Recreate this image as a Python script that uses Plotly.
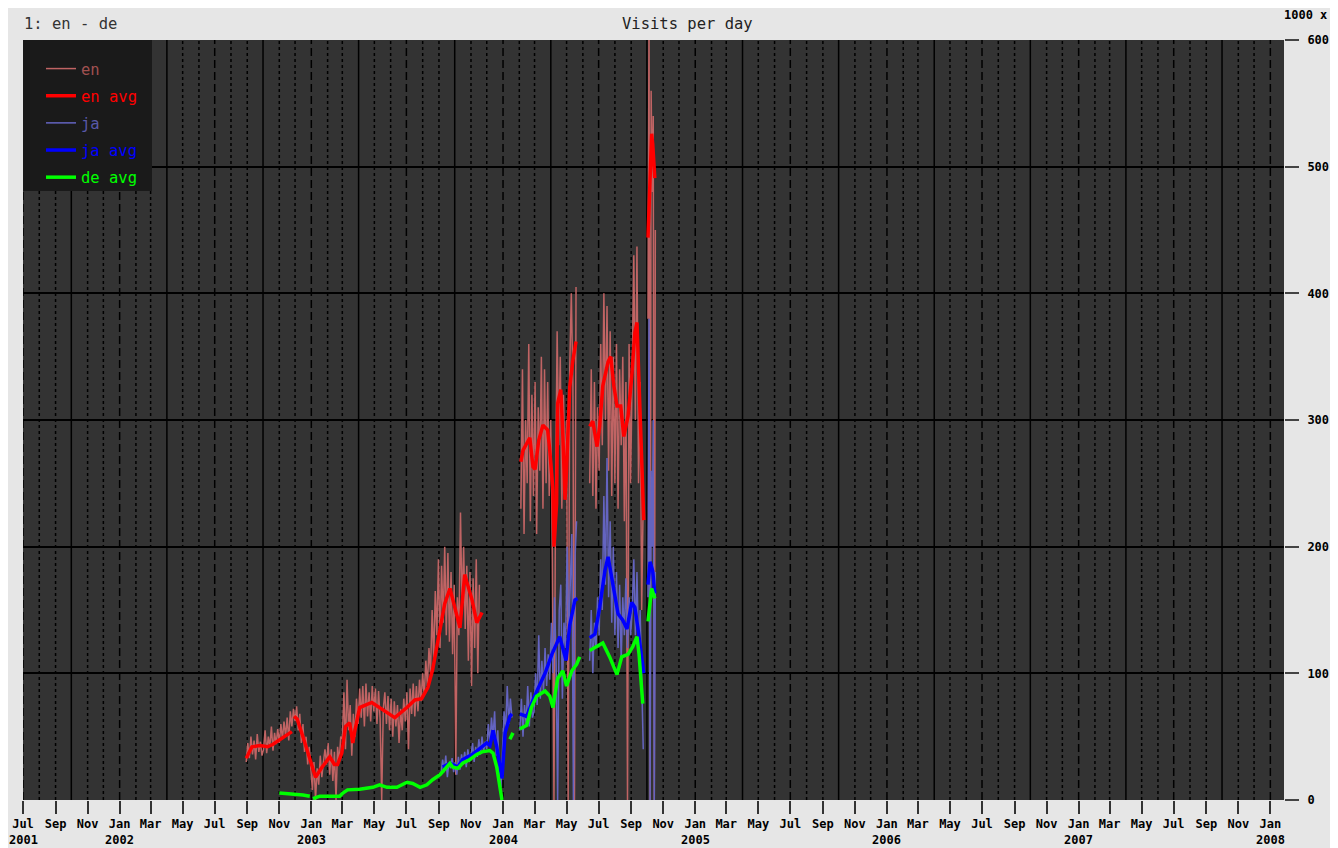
import plotly.graph_objects as go
import pandas as pd

# ---------------- data (thousands of visits per day) ----------------
# "en" daily values, sampled every 3 days (segment start dates)
en_d1_start = "2002-08-30"
en_d1_vals = [30, 45, 33, 50, 36, 47, 32, 52, 38, 46, 35,
              40, 55, 37, 50, 42, 58, 39, 53, 44, 56,
              45, 60, 48, 62, 50, 65, 47, 70, 58, 72,
              62, 74, 55, 68, 45, 60, 38, 50, 28, 42,
              22, 8, 30, 0, 25, 12, 35, 18, 30, 40,
              28, 45, 20, 40, 15, 38, 0, 42, 30, 50,
              48, 85, 40, 95, 55, 75, 35, 68, 50, 80,
              60, 88, 65, 90, 58, 92, 66, 85, 62, 90,
              70, 88, 60, 86, 64, 0, 72, 85, 60, 82,
              55, 80, 50, 78, 58, 75, 45, 72, 55, 80,
              62, 85, 40, 88, 68, 92, 66, 90, 70, 95,
              78, 100, 82, 110, 90, 120, 100, 150, 110, 165,
              130, 190, 120, 185, 140, 200, 130, 195, 125, 180,
              115, 170, 20, 160, 130, 227, 150, 200, 135, 185,
              110, 180, 90, 175, 120, 190, 100, 170]
en_d2_start = "2004-02-04"
en_d2_vals = [230, 340, 210, 300, 250, 360, 220, 320, 240,
              330, 210, 310, 260, 350, 230, 340, 250, 330, 240,
              300, 190, 0, 240, 370, 280, 350, 230, 320, 260,
              300, 0, 340, 400, 330, 0, 405]
en_d3_start = "2004-06-14"
en_d3_vals = [250, 340, 240, 330, 230, 310,
              260, 360, 280, 400, 300, 390, 260, 370, 240, 350,
              250, 360, 230, 340, 280, 350, 220, 330, 0, 360, 250,
              340, 430, 300, 437, 250, 330, 150, 240]
en_d4_start = "2004-10-03"   # every 2 days
en_d4_vals = [380, 620, 0, 560, 480, 540, 0, 450]

# "ja" daily values, sampled every 3 days
ja_d1_start = "2003-09-05"
ja_d1_vals = [20, 32, 22, 35, 18, 30, 25, 33, 22,
              30, 20, 34, 24, 36, 28, 38, 26, 40, 30,
              35, 45, 30, 42, 34, 48, 36, 50, 38, 46,
              40, 60, 45, 65, 50, 70, 35, 55, 20, 10,
              40, 70, 55, 90, 60, 80, 65]
ja_d2_start = "2004-02-02"
ja_d2_vals = [55, 80, 50, 75, 60, 90, 58, 85, 65,
              70, 100, 75, 130, 80, 110, 85, 120, 90, 115,
              95, 140, 100, 160, 110, 0, 150, 170, 80, 140,
              120, 200, 130, 170, 210, 0, 190, 220]
ja_d3_start = "2004-06-14"
ja_d3_vals = [110, 150, 100, 140, 120, 160,
              130, 190, 150, 240, 170, 270, 160, 220, 140, 200,
              130, 180, 120, 170, 110, 160, 130, 175, 120, 160, 130,
              150, 190, 130, 180, 120, 150, 80, 40]
ja_d4_start = "2004-10-03"   # every 2 days
ja_d4_vals = [160, 380, 0, 260, 200, 300, 0, 180]

# averages: segments of (dates, values)
en_avg_dates = [
    ["2002-08-30", "2002-09-10", "2002-09-25", "2002-10-10", "2002-10-20", "2002-10-30", "2002-11-10", "2002-11-25"],
    ["2002-11-29", "2002-12-05", "2002-12-16", "2002-12-29", "2003-01-09", "2003-01-20", "2003-02-05", "2003-02-14",
     "2003-02-20", "2003-02-28", "2003-03-07", "2003-03-15", "2003-03-21", "2003-03-25", "2003-04-03", "2003-04-26",
     "2003-05-17", "2003-06-09", "2003-07-02", "2003-07-17", "2003-07-30", "2003-08-11", "2003-08-20", "2003-08-30",
     "2003-09-12", "2003-09-22", "2003-10-01", "2003-10-11", "2003-10-20", "2003-11-03", "2003-11-12", "2003-11-22"],
    ["2004-02-04", "2004-02-08", "2004-02-21", "2004-02-27", "2004-03-02", "2004-03-09", "2004-03-17", "2004-03-26",
     "2004-03-30", "2004-04-05", "2004-04-07", "2004-04-12", "2004-04-14", "2004-04-20", "2004-04-24", "2004-04-28",
     "2004-05-01", "2004-05-07", "2004-05-13", "2004-05-19"],
    ["2004-06-14", "2004-06-20", "2004-06-28", "2004-07-03", "2004-07-09", "2004-07-19", "2004-07-24", "2004-07-30",
     "2004-08-05", "2004-08-12", "2004-08-18", "2004-08-26", "2004-09-02", "2004-09-08", "2004-09-12", "2004-09-16",
     "2004-09-21", "2004-09-25"],
    ["2004-10-03", "2004-10-07", "2004-10-10", "2004-10-12", "2004-10-16"],
]
en_avg_vals = [
    [33, 42, 43, 42, 44, 47, 50, 54],
    [66, 64, 50, 32, 18, 25, 34, 28, 28, 37, 58, 61, 45, 55, 73, 77,
     71, 65, 73, 79, 80, 89, 103, 126, 155, 167, 152, 136, 178, 158, 140, 148],
    [267, 276, 286, 263, 261, 284, 296, 292, 276, 245, 200, 234, 313, 324, 287, 237, 261, 326, 347, 362],
    [295, 299, 279, 295, 327, 346, 350, 327, 311, 311, 287, 303, 334, 369, 377, 334, 276, 221],
    [444, 502, 526, 518, 491],
]

ja_avg_dates = [
    ["2003-09-08", "2003-09-22", "2003-10-07", "2003-10-16", "2003-11-04", "2003-11-23", "2003-12-01", "2003-12-07",
     "2003-12-13", "2003-12-20", "2003-12-26", "2003-12-30", "2004-01-05", "2004-01-14", "2004-01-18"],
    ["2004-02-02", "2004-02-15", "2004-03-01", "2004-03-21", "2004-04-03", "2004-04-18", "2004-04-30", "2004-05-07",
     "2004-05-17", "2004-05-22"],
    ["2004-06-14", "2004-06-24", "2004-07-03", "2004-07-13", "2004-07-19", "2004-07-28", "2004-08-07", "2004-08-16",
     "2004-08-24", "2004-09-02", "2004-09-08", "2004-09-14", "2004-09-21", "2004-09-25"],
    ["2004-10-03", "2004-10-07", "2004-10-12", "2004-10-16"],
]
ja_avg_vals = [
    [26, 29, 26, 32, 36, 42, 45, 43, 55, 42, 29, 17, 53, 66, 68],
    [68, 66, 82, 100, 115, 129, 110, 138, 158, 159],
    [128, 131, 152, 181, 192, 172, 147, 142, 135, 156, 152, 135, 115, 100],
    [170, 188, 181, 163],
]

de_avg_dates = [
    ["2002-11-01", "2002-11-21", "2002-12-16", "2002-12-29"],
    ["2003-01-04", "2003-01-17", "2003-02-05", "2003-02-24", "2003-03-02", "2003-03-11", "2003-04-03", "2003-04-28",
     "2003-05-11", "2003-05-25", "2003-06-13", "2003-07-02", "2003-07-13", "2003-07-27", "2003-08-09", "2003-08-20",
     "2003-09-03", "2003-09-12", "2003-09-22", "2003-09-27", "2003-10-07", "2003-10-16", "2003-10-30", "2003-11-12",
     "2003-11-22", "2003-12-07", "2003-12-13", "2003-12-20", "2003-12-26", "2003-12-30"],
    ["2004-01-14", "2004-01-20"],
    ["2004-02-02", "2004-02-15", "2004-02-24", "2004-03-05", "2004-03-21", "2004-03-30", "2004-04-05", "2004-04-14",
     "2004-04-24", "2004-05-01", "2004-05-11", "2004-05-20", "2004-05-26"],
    ["2004-06-14", "2004-06-28", "2004-07-09", "2004-07-22", "2004-08-05", "2004-08-14", "2004-08-26", "2004-09-04",
     "2004-09-12", "2004-09-16", "2004-09-23"],
    ["2004-10-03", "2004-10-10", "2004-10-16"],
]
de_avg_vals = [
    [5.5, 5, 4, 3],
    [1, 3, 3, 3, 5.5, 8, 8.5, 10, 12, 10, 10, 14, 13, 10, 12, 16,
     20, 24, 29, 26, 25, 29, 32, 36, 38, 39, 37, 26, 10, 0],
    [48, 53],
    [56, 59, 73, 82, 86, 82, 73, 96, 102, 90, 102, 107, 113],
    [118, 121, 124, 113, 99, 113, 115, 121, 129, 115, 76],
    [141, 167, 159],
]

month_ticks = pd.date_range("2001-07-01", "2008-01-01", freq="2MS")
month_abbr = ["Jan", "Feb", "Mar", "Apr", "May", "Jun", "Jul", "Aug", "Sep", "Oct", "Nov", "Dec"]
tick_text = [month_abbr[d.month - 1] for d in month_ticks]
year_labels = ["2001", "2002", "2003", "2004", "2005", "2006", "2007", "2008"]
year_dates = ["2001-07-01", "2002-01-01", "2003-01-01", "2004-01-01", "2005-01-01",
              "2006-01-01", "2007-01-01", "2008-01-01"]


# ---------------- helpers ----------------
def daily(segments):
    xs, ys = [], []
    for start, vals, step in segments:
        d = pd.date_range(start, periods=len(vals), freq=step)
        xs += [x.strftime("%Y-%m-%d") for x in d] + [None]
        ys += list(vals) + [None]
    return xs, ys


def joined(dates, vals):
    xs, ys = [], []
    for d, v in zip(dates, vals):
        xs += d + [None]
        ys += v + [None]
    return xs, ys


FONT = "DejaVu Sans Mono"
C_EN, C_EN_AVG = "#c06464", "#ff0000"
C_JA, C_JA_AVG = "#6464c0", "#0000ff"
C_DE_AVG = "#00ff00"


def lname(text, color):
    return '<span style="color:%s">%s</span>' % (color, text)


fig = go.Figure()

x, y = daily([(en_d1_start, en_d1_vals, "3D"), (en_d2_start, en_d2_vals, "3D"),
              (en_d3_start, en_d3_vals, "3D"), (en_d4_start, en_d4_vals, "2D")])
fig.add_trace(go.Scatter(x=x, y=y, mode="lines", line=dict(color=C_EN, width=1.5),
                         name=lname("en", "#a05050"), legendgroup="a"))

x, y = joined(en_avg_dates, en_avg_vals)
fig.add_trace(go.Scatter(x=x, y=y, mode="lines", line=dict(color=C_EN_AVG, width=3.5),
                         name=lname("en avg", C_EN_AVG), legendgroup="b"))

x, y = daily([(ja_d1_start, ja_d1_vals, "3D"), (ja_d2_start, ja_d2_vals, "3D"),
              (ja_d3_start, ja_d3_vals, "3D"), (ja_d4_start, ja_d4_vals, "2D")])
fig.add_trace(go.Scatter(x=x, y=y, mode="lines", line=dict(color=C_JA, width=1.5),
                         name=lname("ja", "#5858a8"), legendgroup="c"))

x, y = joined(ja_avg_dates, ja_avg_vals)
fig.add_trace(go.Scatter(x=x, y=y, mode="lines", line=dict(color=C_JA_AVG, width=3.5),
                         name=lname("ja avg", C_JA_AVG), legendgroup="d"))

x, y = joined(de_avg_dates, de_avg_vals)
fig.add_trace(go.Scatter(x=x, y=y, mode="lines", line=dict(color=C_DE_AVG, width=3.5),
                         name=lname("de avg", C_DE_AVG), legendgroup="e"))

# vertical month grid lines
shapes = []
for d in pd.date_range("2001-07-01", "2008-01-01", freq="MS"):
    if d.month in (4, 10):
        dash = "solid"
    elif d.month in (1, 7):
        dash = "8px,4px"
    else:
        dash = "3px,3px"
    shapes.append(dict(type="line", xref="x", yref="paper", x0=d, x1=d, y0=0, y1=1,
                       line=dict(color="#000000", width=1.5, dash=dash), layer="below"))
# legend background box
shapes.append(dict(type="rect", xref="paper", yref="paper", x0=0, x1=129 / 1261,
                   y0=1 - 151 / 760, y1=1, fillcolor="#1a1a1a", line=dict(width=0), layer="above"))

annotations = [
    dict(text="1: en - de", xref="paper", yref="paper", x=-0.001, y=1.021, xanchor="left",
         yanchor="middle", showarrow=False, font=dict(family=FONT, size=15.5, color="#333333")),
    dict(text="Visits per day", xref="paper", yref="paper", x=0.527, y=1.021, xanchor="center",
         yanchor="middle", showarrow=False, font=dict(family=FONT, size=15.5, color="#222222")),
    dict(text="1000 x", xref="paper", yref="paper", x=1.036, y=1.033, xanchor="right",
         yanchor="middle", showarrow=False, font=dict(family=FONT, size=12, color="#000000", weight="bold")),
]
for yl, yd in zip(year_labels, year_dates):
    annotations.append(dict(text=yl, xref="x", yref="paper", x=yd, y=-0.0526, xanchor="center",
                            yanchor="middle", showarrow=False,
                            font=dict(family=FONT, size=12, color="#000000", weight="bold")))

# page body adds an 8px offset, so the figure is 8px smaller with 8px smaller left/top margins
fig.update_layout(
    width=1330, height=840,
    margin=dict(l=15, r=54, t=32, b=48, autoexpand=False),
    paper_bgcolor="#e6e6e6", plot_bgcolor="#333333",
    shapes=shapes, annotations=annotations,
    showlegend=True,
    legend=dict(x=18 / 1261, y=1 - 12 / 760, xanchor="left", yanchor="top",
                bgcolor="rgba(0,0,0,0)", borderwidth=0,
                font=dict(family=FONT, size=15.5), tracegroupgap=4, traceorder="grouped",
                itemwidth=30),
    xaxis=dict(type="date", range=["2001-07-01", "2008-01-27"], tickvals=list(month_ticks),
               ticktext=tick_text, ticks="outside", ticklen=13, tickwidth=2, tickcolor="#333333",
               showgrid=False, zeroline=False, showline=False,
               tickfont=dict(family=FONT, size=12, color="#000000", weight="bold")),
    yaxis=dict(range=[0, 600], side="right", tickvals=[0, 100, 200, 300, 400, 500, 600],
               ticks="outside", ticklen=14, tickwidth=1.5, tickcolor="#444444",
               showgrid=True, gridcolor="#000000", gridwidth=1.5, zeroline=False, showline=False,
               ticklabelstandoff=6,
               tickfont=dict(family=FONT, size=12, color="#000000", weight="bold")),
)

fig.write_html("out.html")
